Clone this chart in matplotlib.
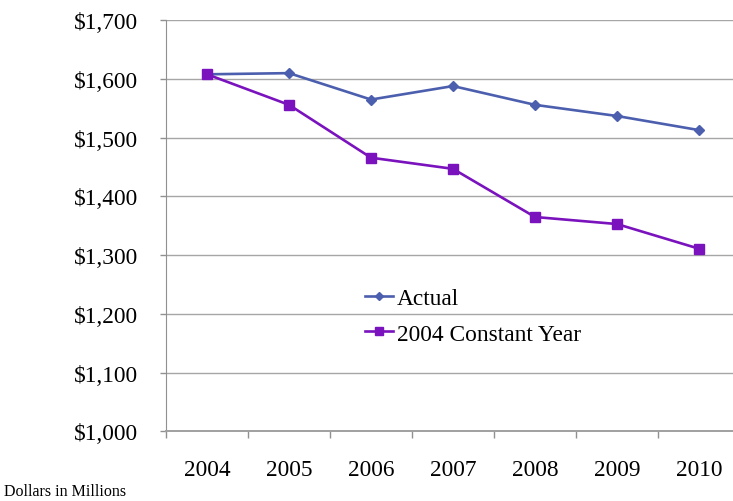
import matplotlib
matplotlib.use("Agg")
import matplotlib.pyplot as plt
from matplotlib.ticker import FuncFormatter, FixedLocator

years = ["2004", "2005", "2006", "2007", "2008", "2009", "2010"]
actual = [1608, 1610, 1565, 1588, 1556, 1537, 1513]
constant_2004 = [1608, 1556, 1466, 1447, 1365, 1353, 1311]

plt.rcParams["font.family"] = ["Liberation Serif", "DejaVu Serif"]

fig = plt.figure(figsize=(7.33, 5.02), dpi=100)
# plot area runs a little past the right edge, as in the original
ax = fig.add_axes([0.2265, 0.1388, 0.783, 0.8188])

x = list(range(len(years)))
ax.plot(x, actual, color="#4c5fae", lw=1.9, marker="D", ms=4.9,
        label="Actual", zorder=3)
ax.plot(x, constant_2004, color="#7a12bd", lw=1.9, marker="s", ms=7.5,
        label="2004 Constant Year", zorder=3)

ax.set_xlim(-0.5, len(years) - 0.5)
ax.set_ylim(1000, 1700)
ax.set_yticks(range(1000, 1701, 100))
ax.yaxis.set_major_formatter(FuncFormatter(lambda v, _: f"${v:,.0f}"))
ax.grid(axis="y", color="#a6a6a6", lw=1.0)
ax.set_axisbelow(True)

ax.set_xticks(x)
ax.set_xticklabels(years)
ax.xaxis.set_minor_locator(FixedLocator([i - 0.5 for i in range(len(years) + 1)]))
ax.tick_params(axis="x", which="major", length=0, pad=20, labelsize=16.8)
ax.tick_params(axis="x", which="minor", length=5, width=1, color="#909090",
               direction="out")
ax.tick_params(axis="y", length=4, width=1, color="#909090", pad=16,
               labelsize=16.8)

for side in ("top", "right"):
    ax.spines[side].set_visible(False)
ax.spines["left"].set_color("#909090")
ax.spines["bottom"].set_color("#a0a0a0")
ax.spines["bottom"].set_linewidth(1.4)

ax.legend(loc="center left", bbox_to_anchor=(0.498, 0.368),
          bbox_transform=fig.transFigure, frameon=False, fontsize=16.8,
          numpoints=1, markerscale=0.75, handlelength=1.2, handletextpad=0.15,
          labelspacing=0.6, borderpad=0, borderaxespad=0)

fig.text(0.005, 0.02, "Dollars in Millions", fontsize=11.5, ha="left",
         va="center")

fig.savefig("out.png", dpi=100)
